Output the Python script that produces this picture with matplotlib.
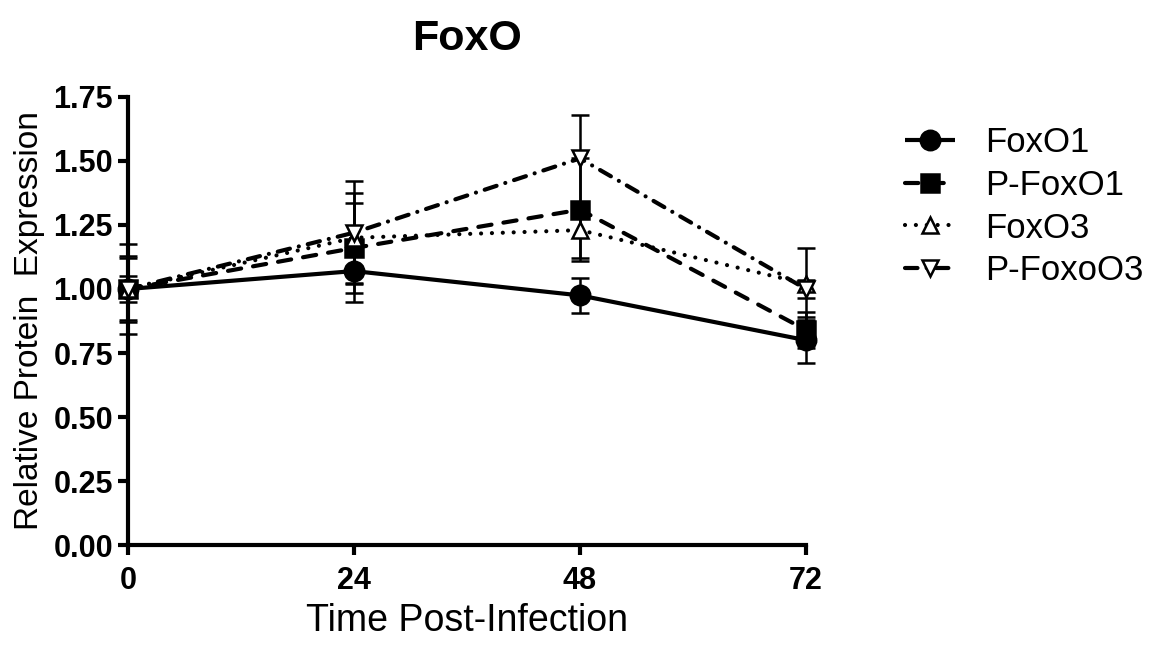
import matplotlib
matplotlib.use("Agg")
import matplotlib.pyplot as plt

plt.rcParams['font.family'] = ['Liberation Sans', 'DejaVu Sans']

time = [0, 24, 48, 72]
series_names = ["FoxO1", "P-FoxO1", "FoxO3", "P-FoxoO3"]
foxo1 = [1.00, 1.07, 0.975, 0.80]
foxo1_err = [0.05, 0.12, 0.067, 0.09]
p_foxo1 = [1.00, 1.16, 1.31, 0.84]
p_foxo1_err = [0.12, 0.175, 0.20, 0.07]
foxo3 = [1.00, 1.20, 1.23, 1.02]
foxo3_err = [0.13, 0.175, 0.11, 0.14]
p_foxoo3 = [1.00, 1.22, 1.51, 1.00]
p_foxoo3_err = [0.175, 0.20, 0.17, 0.035]
x_ticks = [0, 24, 48, 72]
y_ticks = [0.00, 0.25, 0.50, 0.75, 1.00, 1.25, 1.50, 1.75]

fig = plt.figure(figsize=(11.53, 6.5), dpi=100)
ax = fig.add_axes([0.111, 0.1615, 0.588, 0.6893])

styles = [
    dict(ls='-', marker='o', ms=14, mfc='black'),
    dict(ls=(0, (3.2, 2.9)), marker='s', ms=13, mfc='black'),
    dict(ls=(0, (0.01, 2.6)), marker='^', ms=12, mfc='white'),
    dict(ls=(0, (3.0, 2.2, 0.01, 2.2)), marker='v', ms=12, mfc='white'),
]
data = [(foxo1, foxo1_err), (p_foxo1, p_foxo1_err), (foxo3, foxo3_err), (p_foxoo3, p_foxoo3_err)]

handles = []
for (vals, errs), st, name in zip(data, styles, series_names):
    eb = ax.errorbar(time, vals, yerr=errs, fmt='none', ecolor='black',
                     elinewidth=1.8, capsize=6.5, capthick=1.8, zorder=2, clip_on=False)
    for c in eb[1]:
        c.set_clip_on(False)
    for c in eb[2]:
        c.set_clip_on(False)
    ln, = ax.plot(time, vals, color='black', lw=3, linestyle=st['ls'],
                  marker=st['marker'], ms=st['ms'], mfc=st['mfc'], mec='black',
                  mew=1.8, dash_capstyle='round', solid_capstyle='butt',
                  zorder=3, clip_on=False, label=name)
    handles.append(ln)

ax.set_xlim(0, 72)
ax.set_ylim(0, 1.75)
ax.set_xticks(x_ticks)
ax.set_yticks(y_ticks)
ax.set_yticklabels([f"{v:.2f}" for v in y_ticks])
for lab in ax.get_xticklabels() + ax.get_yticklabels():
    lab.set_fontweight('bold')
    lab.set_fontsize(22)

for s in ['top', 'right']:
    ax.spines[s].set_visible(False)
for s in ['left', 'bottom']:
    ax.spines[s].set_linewidth(3)
ax.tick_params(axis='both', direction='out', length=7.2, width=3)
ax.tick_params(axis='x', pad=8)
ax.tick_params(axis='y', pad=3.6)

ax.set_xlabel("Time Post-Infection", fontsize=27, labelpad=5)
ax.set_ylabel("Relative Protein  Expression", fontsize=24, labelpad=6)
ax.set_title("FoxO", fontsize=31, fontweight='bold', pad=34)

leg = fig.legend(handles=handles, loc='upper left', bbox_to_anchor=(0.785, 0.806),
                 frameon=False, fontsize=25, handlelength=1.45, handletextpad=0.86,
                 labelspacing=0.28, borderpad=0, borderaxespad=0)

fig.savefig("out.png", dpi=100)
